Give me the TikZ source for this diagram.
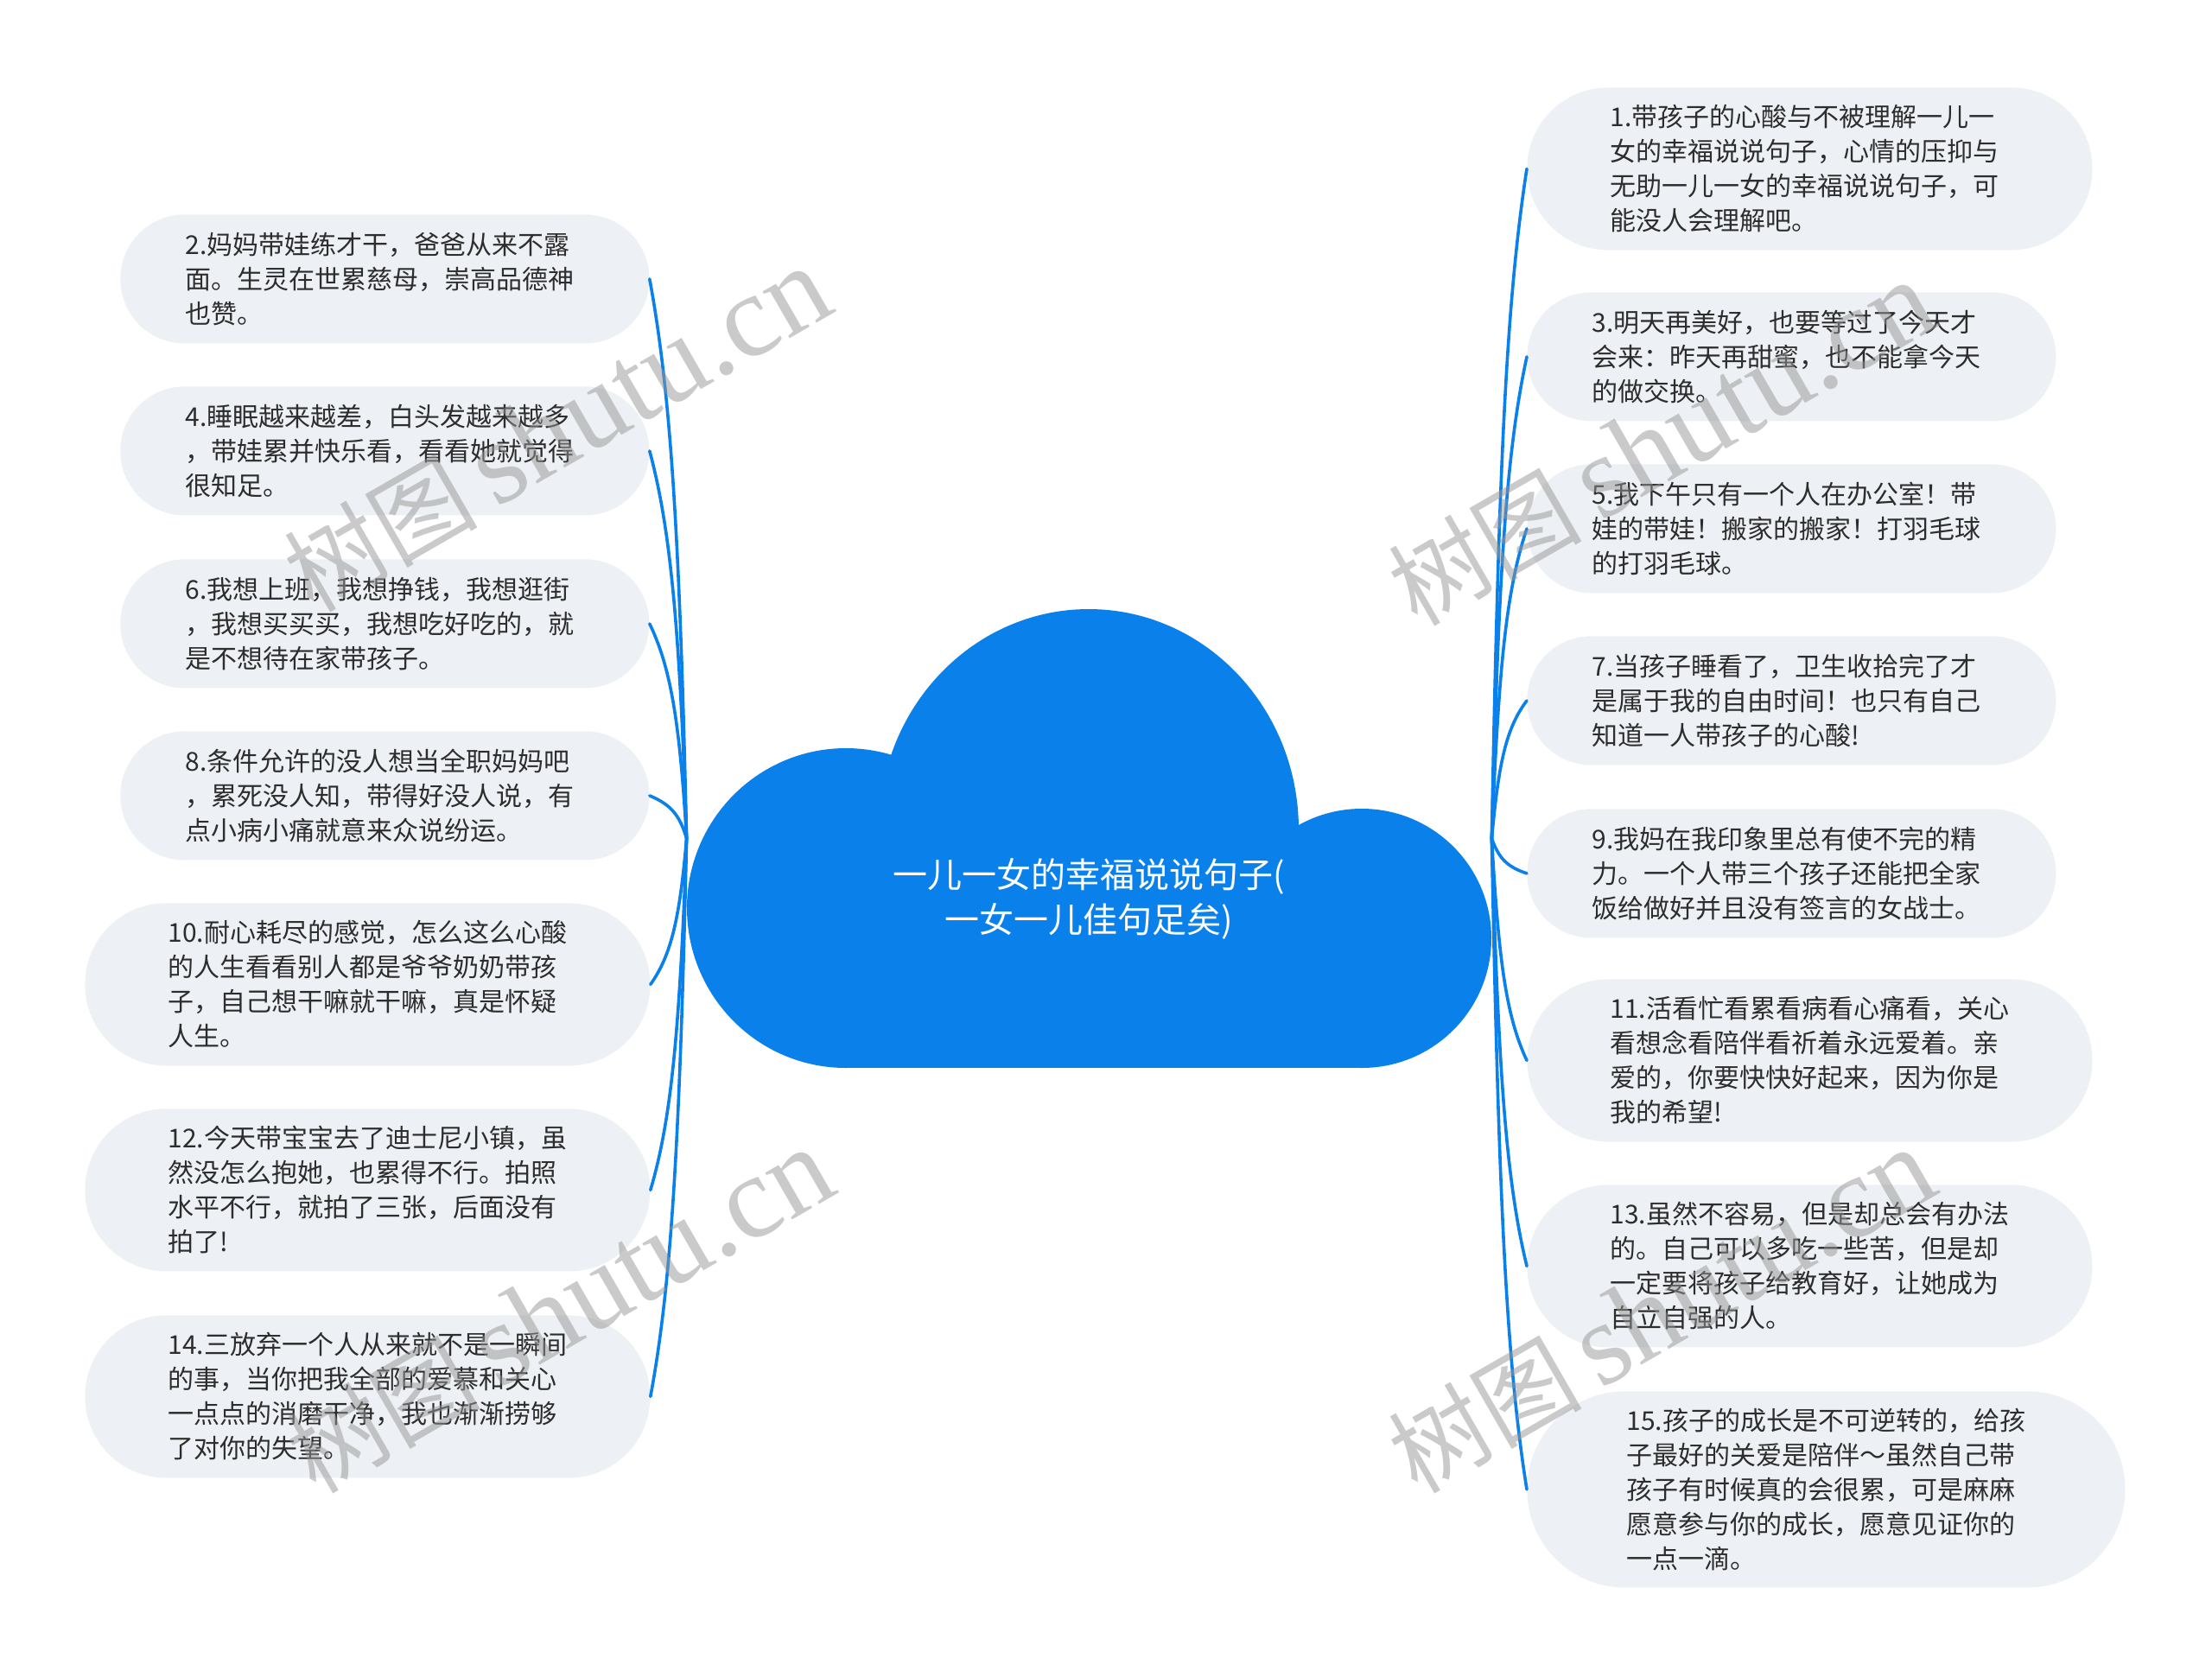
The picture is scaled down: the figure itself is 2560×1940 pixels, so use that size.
\documentclass[tikz,border=0pt]{standalone}
\usepackage{fontspec}
\setmainfont{Noto Sans CJK SC}
\newfontfamily\cjkwm{Noto Sans CJK SC}
\newfontfamily\latwm{Liberation Serif}
\usetikzlibrary{calc}
\definecolor{cloudblue}{RGB}{10,128,235}
\definecolor{boxfill}{RGB}{237,240,244}
\definecolor{txtcol}{RGB}{45,45,45}
\definecolor{wmcol}{RGB}{150,150,150}
\newcommand\linkL[2]{\draw[link] (cloud.west) .. controls +(-8,{0.55*(#2)}) and +(24,{-0.2*(#2)}) .. (#1.east);}
\newcommand\linkR[2]{\draw[link] (cloud.east) .. controls +(8,{0.55*(#2)}) and +(-24,{-0.2*(#2)}) .. (#1.west);}
\newcommand\wmark[1]{\node[rotate=30, text=wmcol, opacity=0.5, inner sep=0pt] at (#1) {{\cjkwm\fontsize{56pt}{56pt}\selectfont 树图}\hspace{10pt}{\latwm\fontsize{68pt}{68pt}\selectfont shutu.cn}};}
\begin{document}
\begin{tikzpicture}[x=0.5pt,y=-0.5pt,
  box/.style={rectangle, fill=boxfill, text=txtcol, align=left, text width=231pt, inner ysep=0pt, font=\fontsize{15pt}{20pt}\selectfont, anchor=north west},
  three/.style={box, inner xsep=37.5pt, minimum height=74.5pt, rounded corners=37pt},
  four/.style={box, inner xsep=48pt, minimum height=94pt, rounded corners=46.8pt},
  five/.style={box, inner xsep=57.5pt, minimum height=113.5pt, rounded corners=56.5pt},
  link/.style={draw=cloudblue, line width=1.8pt, line cap=round},
]
\useasboundingbox[fill=white] (0,0) rectangle (2560,1940);

% left boxes
\node[three] (b2) at (139,248) {2.妈妈带娃练才干，爸爸从来不露\\面。生灵在世累慈母，崇高品德神\\也赞。};
\node[three] (b4) at (139,447) {4.睡眠越来越差，白头发越来越多\\，带娃累并快乐看，看看她就觉得\\很知足。};
\node[three] (b6) at (139,647) {6.我想上班，我想挣钱，我想逛街\\，我想买买买，我想吃好吃的，就\\是不想待在家带孩子。};
\node[three] (b8) at (139,846) {8.条件允许的没人想当全职妈妈吧\\，累死没人知，带得好没人说，有\\点小病小痛就意来众说纷运。};
\node[four] (b10) at (98,1045) {10.耐心耗尽的感觉，怎么这么心酸\\的人生看看别人都是爷爷奶奶带孩\\子，自己想干嘛就干嘛，真是怀疑\\人生。};
\node[four] (b12) at (98,1283) {12.今天带宝宝去了迪士尼小镇，虽\\然没怎么抱她，也累得不行。拍照\\水平不行，就拍了三张，后面没有\\拍了!};
\node[four] (b14) at (98,1522) {14.三放弃一个人从来就不是一瞬间\\的事，当你把我全部的爱慕和关心\\一点点的消磨干净，我也渐渐捞够\\了对你的失望。};

% right boxes
\node[four] (b1) at (1767,101) {1.带孩子的心酸与不被理解一儿一\\女的幸福说说句子，心情的压抑与\\无助一儿一女的幸福说说句子，可\\能没人会理解吧。};
\node[three] (b3) at (1767,338) {3.明天再美好，也要等过了今天才\\会来：昨天再甜蜜，也不能拿今天\\的做交换。};
\node[three] (b5) at (1767,537) {5.我下午只有一个人在办公室！带\\娃的带娃！搬家的搬家！打羽毛球\\的打羽毛球。};
\node[three] (b7) at (1767,736) {7.当孩子睡看了，卫生收拾完了才\\是属于我的自由时间！也只有自己\\知道一人带孩子的心酸!};
\node[three] (b9) at (1767,936) {9.我妈在我印象里总有使不完的精\\力。一个人带三个孩子还能把全家\\饭给做好并且没有签言的女战士。};
\node[four] (b11) at (1767,1133) {11.活看忙看累看病看心痛看，关心\\看想念看陪伴看祈着永远爱着。亲\\爱的，你要快快好起来，因为你是\\我的希望!};
\node[four] (b13) at (1767,1371) {13.虽然不容易，但是却总会有办法\\的。自己可以多吃一些苦，但是却\\一定要将孩子给教育好，让她成为\\自立自强的人。};
\node[five] (b15) at (1767,1610) {15.孩子的成长是不可逆转的，给孩\\子最好的关爱是陪伴～虽然自己带\\孩子有时候真的会很累，可是麻麻\\愿意参与你的成长，愿意见证你的\\一点一滴。};

% central cloud
\node[draw=none, minimum width=465.5pt, minimum height=265.5pt, inner sep=0pt] (cloud) at (1260.5,970.5) {};
\fill[cloudblue] (979,1051) ellipse [x radius=92pt, y radius=92.5pt];
\fill[cloudblue] (1260,960) ellipse [x radius=121.5pt, y radius=127.5pt];
\fill[cloudblue] (1576,1086) ellipse [x radius=75pt, y radius=75pt];
\fill[cloudblue] (979,960) rectangle (1578,1236);
\node[font=\fontsize{20pt}{26pt}\selectfont, text=white, align=center, inner sep=0pt] (title) at (1260,1040) {一儿一女的幸福说说句子(\\一女一儿佳句足矣)};

% connectors
\linkL{b2}{-647.5}
\linkL{b4}{-448.5}
\linkL{b6}{-249}
\linkL{b8}{-50}
\linkL{b10}{169}
\linkL{b12}{407}
\linkL{b14}{645.5}
\linkR{b1}{-775}
\linkR{b3}{-557.5}
\linkR{b5}{-358.5}
\linkR{b7}{-159.5}
\linkR{b9}{40}
\linkR{b11}{257}
\linkR{b13}{495}
\linkR{b15}{753.5}

% watermarks
\wmark{645,498}
\wmark{648,1518}
\wmark{1923,514}
\wmark{1923,1518}
\end{tikzpicture}
\end{document}
